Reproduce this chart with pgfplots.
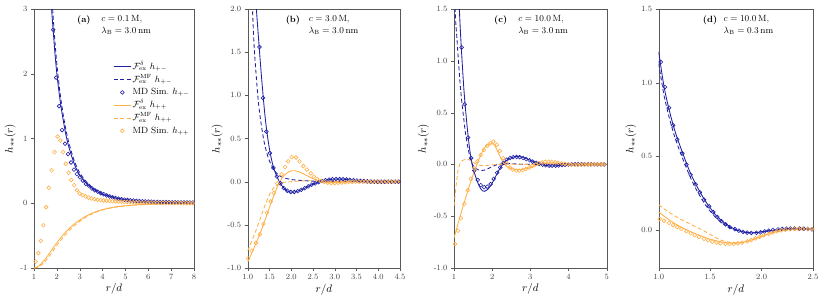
\documentclass[border=0pt]{standalone}
\usepackage{pgfplots}
\pgfplotsset{compat=1.18}
\definecolor{myblue}{RGB}{32,32,165}
\definecolor{myorange}{RGB}{255,175,70}
\pgfplotsset{
  panel/.style={
    scale only axis, anchor=south west,
    height=259pt,
    axis line style={black!65},
    tick style={black!65},
    major tick length=3pt,
    tick align=outside,
    xtick pos=left, ytick pos=left,
    tick label style={font=\footnotesize, text=black!75},
    label style={font=\fontsize{11}{13}\selectfont},
    xlabel={$r/d$}, ylabel={$h_{\ast\ast}(r)$},
    xlabel style={yshift=3pt},
    ylabel style={yshift=-2pt},
  },
  bsolid/.style={color=myblue, line width=0.85pt, no markers, smooth},
  bdash/.style={color=myblue, line width=0.85pt, no markers, smooth, dash pattern=on 4pt off 2.5pt},
  bmd/.style={color=myblue, only marks, mark=o, mark size=1.9pt, mark options={line width=0.6pt}},
  osolid/.style={color=myorange, line width=0.85pt, no markers, smooth},
  odash/.style={color=myorange, line width=0.85pt, no markers, smooth, dash pattern=on 4pt off 2.5pt},
  omd/.style={color=myorange, only marks, mark=o, mark size=1.9pt, mark options={line width=0.6pt}},
}
\begin{document}
\begin{tikzpicture}
\path[use as bounding box] (0,0) rectangle (822pt,303pt);
% ---------------- (a)
\begin{axis}[panel, at={(34pt,35pt)}, width=160pt,
  xmin=1, xmax=8, ymin=-1, ymax=3,
  xtick={1,2,3,4,5,6,7,8}, ytick={-1,0,1,2,3},
  yticklabels={-1,0,1,2,3},
  legend style={draw=none, fill=none, at={(1.0,0.81)}, anchor=north east, font=\small, row sep=0pt,
    nodes={text height=7.6pt, text depth=2.6pt, inner sep=1.3pt}},
  legend cell align=left]
\addplot[bsolid] coordinates {(1.70,3.5)(1.77,3.0)(1.85,2.62)(1.92,2.3)(2.0,2.0)(2.1,1.7)(2.2,1.45)(2.3,1.24)(2.4,1.05)(2.5,0.90)(2.6,0.78)(2.7,0.67)(2.8,0.575)(2.9,0.495)(3.0,0.435)(3.2,0.34)(3.4,0.27)(3.6,0.215)(3.8,0.175)(4.0,0.14)(4.3,0.105)(4.6,0.078)(5.0,0.054)(5.5,0.034)(6.0,0.022)(6.5,0.014)(7.0,0.009)(7.5,0.006)(8.0,0.004)};
\addlegendentry{$\mathcal{F}_{\mathrm{ex}}^{\delta}\ h_{+-}$}
\addplot[bdash] coordinates {(1.70,3.8)(1.77,3.25)(1.85,2.82)(1.92,2.48)(2.0,2.15)(2.1,1.82)(2.2,1.55)(2.3,1.32)(2.4,1.13)(2.5,0.97)(2.6,0.84)(2.7,0.72)(2.8,0.62)(2.9,0.54)(3.0,0.47)(3.2,0.37)(3.4,0.29)(3.6,0.23)(3.8,0.19)(4.0,0.15)(4.3,0.115)(4.6,0.083)(5.0,0.057)(5.5,0.036)(6.0,0.023)(6.5,0.015)(7.0,0.01)(7.5,0.006)(8.0,0.004)};
\addlegendentry{$\mathcal{F}_{\mathrm{ex}}^{\mathrm{MF}}\ h_{+-}$}
\addplot[bmd] coordinates {(1.84,2.68)(1.97,1.94)(2.10,1.50)(2.23,1.13)(2.36,0.92)(2.49,0.76)(2.62,0.63)(2.75,0.52)(2.88,0.45)(3.01,0.40)(3.14,0.35)(3.27,0.30)(3.40,0.27)(3.53,0.23)(3.66,0.20)(3.79,0.18)(3.92,0.155)(4.05,0.14)(4.18,0.12)(4.31,0.105)(4.44,0.09)(4.57,0.08)(4.70,0.07)(4.83,0.063)(4.96,0.056)(5.09,0.05)(5.22,0.045)(5.35,0.041)(5.48,0.037)(5.61,0.034)(5.74,0.031)(5.87,0.028)(6.00,0.026)(6.13,0.024)(6.26,0.022)(6.39,0.02)(6.52,0.019)(6.65,0.018)(6.78,0.017)(6.91,0.016)(7.04,0.015)(7.17,0.014)(7.30,0.013)(7.43,0.013)(7.56,0.012)(7.69,0.012)(7.82,0.011)(7.95,0.011)};
\addlegendentry{MD Sim.\ $h_{+-}$}
\addplot[osolid] coordinates {(1.0,-1.0)(1.1,-0.99)(1.2,-0.97)(1.3,-0.94)(1.4,-0.90)(1.5,-0.86)(1.6,-0.81)(1.7,-0.76)(1.8,-0.71)(1.9,-0.66)(2.0,-0.61)(2.2,-0.52)(2.4,-0.44)(2.6,-0.37)(2.8,-0.31)(3.0,-0.26)(3.25,-0.205)(3.5,-0.16)(3.75,-0.125)(4.0,-0.097)(4.5,-0.06)(5.0,-0.038)(5.5,-0.024)(6.0,-0.015)(6.5,-0.01)(7.0,-0.006)(7.5,-0.004)(8.0,-0.003)};
\addlegendentry{$\mathcal{F}_{\mathrm{ex}}^{\delta}\ h_{++}$}
\addplot[odash] coordinates {(1.0,-1.0)(1.2,-0.985)(1.4,-0.93)(1.6,-0.85)(1.8,-0.75)(2.0,-0.65)(2.2,-0.56)(2.4,-0.475)(2.6,-0.40)(2.8,-0.335)(3.0,-0.28)(3.25,-0.22)(3.5,-0.172)(3.75,-0.133)(4.0,-0.103)(4.5,-0.064)(5.0,-0.04)(5.5,-0.025)(6.0,-0.016)(7.0,-0.007)(8.0,-0.003)};
\addlegendentry{$\mathcal{F}_{\mathrm{ex}}^{\mathrm{MF}}\ h_{++}$}
\addplot[omd] coordinates {(1.07,-0.90)(1.19,-0.77)(1.30,-0.58)(1.41,-0.34)(1.53,-0.06)(1.65,0.24)(1.77,0.51)(1.90,0.79)(2.03,1.03)(2.15,0.97)(2.27,0.79)(2.39,0.61)(2.51,0.47)(2.63,0.36)(2.76,0.28)(2.88,0.20)(3.00,0.15)(3.13,0.125)(3.26,0.105)(3.39,0.088)(3.52,0.074)(3.65,0.063)(3.78,0.055)(3.91,0.048)(4.04,0.043)(4.17,0.039)(4.30,0.035)(4.43,0.032)(4.56,0.029)(4.69,0.026)(4.82,0.024)(4.95,0.022)(5.08,0.02)(5.21,0.018)(5.34,0.016)(5.47,0.015)(5.60,0.013)(5.73,0.012)(5.86,0.011)(5.99,0.01)(6.12,0.009)(6.25,0.008)(6.38,0.007)(6.51,0.006)(6.64,0.006)(6.77,0.005)(6.90,0.005)(7.03,0.004)(7.16,0.004)(7.29,0.003)(7.42,0.003)(7.55,0.003)(7.68,0.002)(7.81,0.002)(7.94,0.002)};
\addlegendentry{MD Sim.\ $h_{++}$}
\node[anchor=north east, font=\small\bfseries, inner sep=0pt] at (rel axis cs:0.355,0.975) {(a)};
\node[anchor=north west, font=\small, align=left, inner sep=0pt] at (rel axis cs:0.42,0.975) {$c=0.1\,\mathrm{M}$,\\[1pt]$\lambda_{\mathrm{B}}=3.0\,\mathrm{nm}$};
\end{axis}
% ---------------- (b)
\begin{axis}[panel, at={(247.7pt,35pt)}, width=152.3pt,
  xmin=1, xmax=4.5, ymin=-1, ymax=2,
  xtick={1,1.5,2,2.5,3,3.5,4,4.5}, xticklabels={1.0,1.5,2.0,2.5,3.0,3.5,4.0,4.5},
  ytick={-1,-0.5,0,0.5,1,1.5,2}, yticklabels={-1.0,-0.5,0.0,0.5,1.0,1.5,2.0}]
\addplot[bsolid] coordinates {(1.12,2.8)(1.16,2.35)(1.20,2.0)(1.24,1.72)(1.27,1.52)(1.30,1.32)(1.34,1.08)(1.39,0.80)(1.44,0.58)(1.51,0.35)(1.59,0.17)(1.68,0.05)(1.75,-0.02)(1.85,-0.085)(1.95,-0.118)(2.05,-0.122)(2.15,-0.11)(2.25,-0.09)(2.35,-0.065)(2.45,-0.04)(2.55,-0.02)(2.65,-0.002)(2.75,0.012)(2.85,0.022)(2.95,0.028)(3.05,0.03)(3.15,0.029)(3.3,0.024)(3.5,0.014)(3.7,0.005)(3.9,0.0)(4.1,-0.002)(4.3,-0.001)(4.5,0.0)};
\addplot[bdash] coordinates {(1.08,2.5)(1.11,2.0)(1.15,1.55)(1.2,1.2)(1.24,0.95)(1.3,0.7)(1.37,0.48)(1.44,0.33)(1.5,0.24)(1.6,0.14)(1.7,0.08)(1.8,0.05)(1.9,0.035)(2.0,0.025)(2.2,0.015)(2.5,0.006)(2.8,0.002)(3.2,0.0)(4.5,0.0)};
\addplot[bmd] coordinates {(1.27,1.56)(1.35,0.97)(1.43,0.58)(1.51,0.33)(1.59,0.16)(1.67,0.06)(1.75,-0.02)(1.83,-0.075)(1.91,-0.105)(1.99,-0.12)(2.07,-0.12)(2.15,-0.11)(2.23,-0.095)(2.31,-0.075)(2.39,-0.055)(2.47,-0.035)(2.55,-0.02)(2.63,-0.005)(2.71,0.008)(2.79,0.017)(2.87,0.024)(2.95,0.028)(3.03,0.03)(3.11,0.03)(3.19,0.028)(3.27,0.025)(3.35,0.021)(3.43,0.017)(3.51,0.013)(3.59,0.009)(3.67,0.006)(3.75,0.003)(3.83,0.001)(3.91,0.0)(3.99,-0.001)(4.07,-0.001)(4.15,-0.001)(4.23,0.0)(4.31,0.0)(4.39,0.0)(4.47,0.0)};
\addplot[osolid] coordinates {(1.0,-0.93)(1.1,-0.82)(1.2,-0.70)(1.3,-0.58)(1.4,-0.44)(1.5,-0.30)(1.6,-0.16)(1.7,-0.04)(1.8,0.05)(1.9,0.10)(2.0,0.125)(2.1,0.125)(2.2,0.11)(2.3,0.085)(2.4,0.06)(2.5,0.035)(2.6,0.015)(2.7,0.0)(2.8,-0.008)(3.0,-0.01)(3.3,-0.005)(3.6,0.0)(4.5,0.0)};
\addplot[odash] coordinates {(1.0,-0.80)(1.1,-0.68)(1.2,-0.55)(1.3,-0.41)(1.4,-0.27)(1.5,-0.15)(1.6,-0.07)(1.7,-0.03)(1.8,-0.01)(2.0,0.0)(2.3,0.01)(2.6,0.01)(3.0,0.003)(3.5,0.0)(4.5,0.0)};
\addplot[omd] coordinates {(1.01,-0.89)(1.09,-0.80)(1.19,-0.71)(1.28,-0.61)(1.36,-0.49)(1.44,-0.36)(1.53,-0.23)(1.60,-0.13)(1.68,-0.02)(1.78,0.085)(1.86,0.17)(1.93,0.235)(2.01,0.285)(2.11,0.28)(2.19,0.235)(2.28,0.18)(2.36,0.14)(2.45,0.097)(2.52,0.06)(2.60,0.03)(2.68,0.01)(2.76,-0.005)(2.84,-0.012)(2.92,-0.015)(3.00,-0.015)(3.08,-0.013)(3.16,-0.01)(3.24,-0.007)(3.32,-0.004)(3.40,-0.002)(3.48,0.0)(3.56,0.001)(3.64,0.001)(3.72,0.001)(3.80,0.0)(3.88,0.0)(3.96,0.0)(4.04,0.0)(4.12,0.0)(4.20,0.0)(4.28,0.0)(4.36,0.0)(4.44,0.0)};
\node[anchor=north east, font=\small\bfseries, inner sep=0pt] at (rel axis cs:0.345,0.975) {(b)};
\node[anchor=north west, font=\small, align=left, inner sep=0pt] at (rel axis cs:0.40,0.975) {$c=3.0\,\mathrm{M}$,\\[1pt]$\lambda_{\mathrm{B}}=3.0\,\mathrm{nm}$};
\end{axis}
% ---------------- (c)
\begin{axis}[panel, at={(454pt,35pt)}, width=152.7pt,
  xmin=1, xmax=5, ymin=-1, ymax=1.5,
  xtick={1,2,3,4,5},
  ytick={-1,-0.5,0,0.5,1,1.5}, yticklabels={-1.0,-0.5,0.0,0.5,1.0,1.5}]
\addplot[bsolid] coordinates {(1.10,1.9)(1.14,1.5)(1.18,1.2)(1.22,0.95)(1.26,0.72)(1.30,0.54)(1.34,0.38)(1.38,0.24)(1.42,0.12)(1.46,0.03)(1.50,-0.04)(1.55,-0.10)(1.60,-0.155)(1.65,-0.20)(1.70,-0.235)(1.75,-0.255)(1.80,-0.26)(1.85,-0.25)(1.90,-0.235)(1.95,-0.21)(2.0,-0.18)(2.1,-0.11)(2.2,-0.04)(2.3,0.01)(2.4,0.045)(2.5,0.065)(2.6,0.075)(2.7,0.076)(2.8,0.068)(2.9,0.055)(3.0,0.04)(3.1,0.024)(3.2,0.01)(3.3,-0.002)(3.4,-0.01)(3.5,-0.014)(3.6,-0.015)(3.7,-0.013)(3.8,-0.01)(3.9,-0.006)(4.0,-0.003)(4.2,0.001)(4.4,0.003)(4.6,0.002)(5.0,0.0)};
\addplot[bdash] coordinates {(1.0,2.2)(1.03,1.5)(1.08,1.2)(1.12,0.98)(1.16,0.78)(1.2,0.62)(1.25,0.46)(1.29,0.33)(1.35,0.19)(1.4,0.1)(1.45,0.03)(1.5,-0.01)(1.6,-0.045)(1.7,-0.06)(1.8,-0.055)(1.9,-0.04)(2.0,-0.02)(2.1,-0.006)(2.2,0.003)(2.4,0.008)(2.6,0.005)(3.0,0.0)(5.0,0.0)};
\addplot[bmd] coordinates {(1.20,1.13)(1.28,0.58)(1.37,0.26)(1.45,0.06)(1.53,-0.06)(1.62,-0.15)(1.70,-0.20)(1.79,-0.22)(1.87,-0.215)(1.96,-0.19)(2.04,-0.14)(2.13,-0.08)(2.21,-0.03)(2.30,0.015)(2.38,0.045)(2.47,0.062)(2.55,0.07)(2.64,0.072)(2.72,0.07)(2.81,0.062)(2.89,0.052)(2.98,0.04)(3.06,0.027)(3.15,0.015)(3.23,0.005)(3.32,-0.003)(3.40,-0.008)(3.49,-0.012)(3.57,-0.013)(3.66,-0.012)(3.74,-0.01)(3.83,-0.007)(3.91,-0.004)(4.00,-0.002)(4.08,0.0)(4.17,0.001)(4.25,0.002)(4.34,0.002)(4.42,0.002)(4.51,0.001)(4.59,0.001)(4.68,0.0)(4.76,0.0)(4.85,0.0)(4.93,0.0)};
\addplot[osolid] coordinates {(1.0,-0.71)(1.1,-0.58)(1.2,-0.45)(1.3,-0.33)(1.4,-0.21)(1.5,-0.10)(1.6,0.0)(1.7,0.09)(1.8,0.16)(1.9,0.195)(2.0,0.2)(2.05,0.19)(2.1,0.16)(2.2,0.08)(2.3,0.01)(2.4,-0.025)(2.5,-0.04)(2.6,-0.05)(2.75,-0.05)(2.9,-0.04)(3.0,-0.03)(3.2,-0.005)(3.4,0.01)(3.6,0.015)(3.8,0.01)(4.0,0.003)(4.5,-0.002)(5.0,0.0)};
\addplot[odash] coordinates {(1.0,-0.40)(1.03,-0.30)(1.06,-0.19)(1.1,-0.07)(1.15,0.0)(1.2,0.03)(1.3,0.05)(1.4,0.045)(1.5,0.02)(1.6,0.0)(1.7,-0.01)(1.8,-0.012)(2.0,-0.005)(2.2,0.0)(2.5,0.003)(3.0,0.0)(5.0,0.0)};
\addplot[omd] coordinates {(1.03,-0.77)(1.10,-0.64)(1.18,-0.52)(1.27,-0.38)(1.36,-0.25)(1.44,-0.14)(1.53,-0.04)(1.61,0.03)(1.70,0.09)(1.78,0.14)(1.87,0.18)(1.95,0.205)(2.03,0.22)(2.12,0.19)(2.20,0.13)(2.29,0.06)(2.37,0.01)(2.46,-0.03)(2.54,-0.05)(2.63,-0.06)(2.71,-0.06)(2.80,-0.055)(2.88,-0.045)(2.97,-0.03)(3.05,-0.015)(3.14,0.0)(3.22,0.012)(3.31,0.02)(3.39,0.025)(3.48,0.026)(3.56,0.024)(3.65,0.02)(3.73,0.015)(3.82,0.01)(3.90,0.005)(3.99,0.001)(4.07,-0.002)(4.16,-0.003)(4.24,-0.003)(4.33,-0.002)(4.41,-0.001)(4.50,0.0)(4.58,0.0)(4.67,0.0)(4.75,0.0)(4.84,0.0)(4.92,0.0)};
\node[anchor=north east, font=\small\bfseries, inner sep=0pt] at (rel axis cs:0.35,0.975) {(c)};
\node[anchor=north west, font=\small, align=left, inner sep=0pt] at (rel axis cs:0.42,0.975) {$c=10.0\,\mathrm{M}$,\\[1pt]$\lambda_{\mathrm{B}}=3.0\,\mathrm{nm}$};
\end{axis}
% ---------------- (d)
\begin{axis}[panel, at={(658.7pt,35pt)}, width=154.3pt,
  xmin=1, xmax=2.5, ymin=-0.258, ymax=1.5,
  xtick={1,1.5,2,2.5}, xticklabels={1.0,1.5,2.0,2.5},
  ytick={0,0.5,1,1.5}, yticklabels={0.0,0.5,1.0,1.5}]
\addplot[bsolid] coordinates {(1.0,1.21)(1.05,0.98)(1.1,0.82)(1.15,0.69)(1.2,0.585)(1.25,0.49)(1.3,0.40)(1.35,0.325)(1.4,0.26)(1.45,0.20)(1.5,0.15)(1.55,0.105)(1.6,0.07)(1.65,0.042)(1.7,0.02)(1.75,0.003)(1.8,-0.01)(1.85,-0.017)(1.9,-0.02)(1.95,-0.018)(2.0,-0.013)(2.1,-0.003)(2.2,0.006)(2.3,0.01)(2.4,0.008)(2.5,0.004)};
\addplot[bdash] coordinates {(1.0,1.13)(1.05,0.92)(1.1,0.77)(1.15,0.645)(1.2,0.545)(1.25,0.455)(1.3,0.37)(1.35,0.295)(1.4,0.232)(1.45,0.175)(1.5,0.128)(1.55,0.088)(1.6,0.056)(1.65,0.032)(1.7,0.013)(1.75,0.0)(1.8,-0.01)(1.85,-0.016)(1.9,-0.018)(2.0,-0.012)(2.1,-0.003)(2.2,0.005)(2.3,0.009)(2.4,0.008)(2.5,0.004)};
\addplot[bmd] coordinates {(1.02,1.14)(1.06,0.97)(1.10,0.83)(1.14,0.71)(1.18,0.615)(1.23,0.52)(1.27,0.445)(1.31,0.375)(1.36,0.31)(1.40,0.255)(1.44,0.205)(1.49,0.16)(1.53,0.122)(1.57,0.088)(1.61,0.06)(1.65,0.038)(1.69,0.02)(1.74,0.006)(1.78,-0.005)(1.82,-0.013)(1.86,-0.018)(1.90,-0.02)(1.95,-0.019)(1.99,-0.016)(2.03,-0.01)(2.07,-0.005)(2.11,0.0)(2.16,0.004)(2.20,0.007)(2.24,0.009)(2.28,0.01)(2.32,0.01)(2.37,0.009)(2.41,0.008)(2.45,0.007)(2.49,0.005)};
\addplot[osolid] coordinates {(1.0,0.122)(1.05,0.095)(1.1,0.07)(1.15,0.047)(1.2,0.026)(1.25,0.008)(1.3,-0.008)(1.35,-0.023)(1.4,-0.037)(1.45,-0.05)(1.5,-0.062)(1.55,-0.072)(1.6,-0.08)(1.65,-0.086)(1.7,-0.089)(1.75,-0.089)(1.8,-0.085)(1.85,-0.078)(1.9,-0.068)(1.95,-0.056)(2.0,-0.043)(2.05,-0.031)(2.1,-0.02)(2.15,-0.011)(2.2,-0.004)(2.25,0.001)(2.3,0.005)(2.35,0.007)(2.4,0.008)(2.45,0.007)(2.5,0.006)};
\addplot[odash] coordinates {(1.0,0.172)(1.05,0.145)(1.1,0.12)(1.15,0.098)(1.2,0.078)(1.25,0.06)(1.3,0.043)(1.35,0.025)(1.4,0.008)(1.45,-0.01)(1.5,-0.03)(1.55,-0.05)(1.6,-0.068)(1.65,-0.078)(1.7,-0.085)(1.75,-0.087)(1.8,-0.085)(1.85,-0.079)(1.9,-0.069)(1.95,-0.057)(2.0,-0.044)(2.05,-0.032)(2.1,-0.021)(2.15,-0.012)(2.2,-0.005)(2.25,0.0)(2.3,0.004)(2.35,0.006)(2.4,0.007)(2.5,0.006)};
\addplot[omd] coordinates {(1.01,0.075)(1.05,0.062)(1.10,0.048)(1.14,0.033)(1.18,0.02)(1.22,0.007)(1.27,-0.008)(1.31,-0.022)(1.35,-0.035)(1.39,-0.048)(1.44,-0.06)(1.48,-0.07)(1.52,-0.079)(1.56,-0.086)(1.60,-0.091)(1.65,-0.094)(1.69,-0.095)(1.73,-0.094)(1.77,-0.091)(1.81,-0.086)(1.86,-0.078)(1.90,-0.068)(1.94,-0.057)(1.98,-0.047)(2.02,-0.036)(2.07,-0.026)(2.11,-0.017)(2.15,-0.009)(2.19,-0.003)(2.23,0.002)(2.28,0.005)(2.32,0.007)(2.36,0.008)(2.40,0.008)(2.45,0.007)(2.49,0.006)};
\node[anchor=north east, font=\small\bfseries, inner sep=0pt] at (rel axis cs:0.38,0.975) {(d)};
\node[anchor=north west, font=\small, align=left, inner sep=0pt] at (rel axis cs:0.42,0.975) {$c=10.0\,\mathrm{M}$,\\[1pt]$\lambda_{\mathrm{B}}=0.3\,\mathrm{nm}$};
\end{axis}
\end{tikzpicture}
\end{document}
